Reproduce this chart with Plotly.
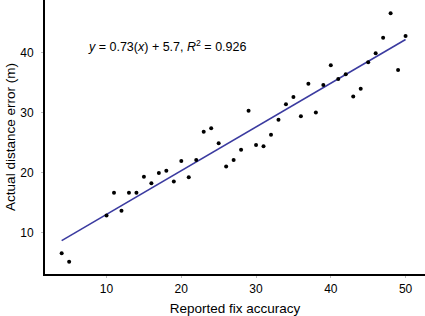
import plotly.graph_objects as go

reported_fix = [4, 5, 10, 11, 12, 13, 14, 15, 16, 17, 18, 19, 20, 21, 22, 23, 24, 25,
                26, 27, 28, 29, 30, 31, 32, 33, 34, 35, 36, 37, 38, 39, 40, 41, 42,
                43, 44, 45, 46, 47, 48, 49, 50]
actual_error = [6.5, 5.1, 12.8, 16.6, 13.6, 16.6, 16.6, 19.3, 18.2, 19.9, 20.3, 18.5,
                21.9, 19.2, 22.1, 26.8, 27.4, 24.9, 21.0, 22.1, 23.8, 30.3, 24.6, 24.4,
                26.3, 28.8, 31.4, 32.6, 29.4, 34.8, 30.0, 34.6, 37.9, 35.6, 36.4, 32.7,
                34.0, 38.4, 39.9, 42.5, 46.6, 37.1, 42.8]
slope = 0.73
intercept = 5.7
r_squared = 0.926
x_ticks = [10, 20, 30, 40, 50]
y_ticks = [10, 20, 30, 40]

fit_y = [slope * x + intercept for x in reported_fix]

fig = go.Figure()
fig.add_trace(go.Scatter(
    x=reported_fix, y=fit_y, mode="lines",
    line=dict(color="#3b3ba0", width=1.6), hoverinfo="skip"))
fig.add_trace(go.Scatter(
    x=reported_fix, y=actual_error, mode="markers",
    marker=dict(color="black", size=4)))

fig.add_annotation(
    x=7.3, y=41.1, xref="x", yref="y", xanchor="left", yanchor="middle",
    text=f"<i>y</i> = {slope}(<i>x</i>) + {intercept}, <i>R</i><sup>2</sup> = {r_squared}",
    showarrow=False, font=dict(size=12.5, color="black"))

fig.update_layout(
    width=425, height=316,
    margin=dict(l=45, r=0, t=0, b=42, pad=0),
    plot_bgcolor="white", paper_bgcolor="white",
    showlegend=False,
    font=dict(family="Liberation Sans, Arial, sans-serif", color="black", size=12),
)
fig.update_xaxes(
    range=[1.77, 52.6], tickvals=x_ticks, showgrid=False, zeroline=False,
    showline=True, linecolor="black", linewidth=2,
    ticks="outside", ticklen=2, tickcolor="#bbbbbb", tickwidth=1,
    tickfont=dict(size=12), automargin=False, ticklabelstandoff=1,
    title=dict(text="Reported fix accuracy", font=dict(size=13.5), standoff=8))
fig.update_yaxes(
    range=[3.05, 48.8], tickvals=y_ticks, showgrid=False, zeroline=False,
    showline=True, linecolor="black", linewidth=2,
    ticks="outside", ticklen=2, tickcolor="#bbbbbb", tickwidth=1,
    tickfont=dict(size=12), automargin=False, ticklabelstandoff=5,
    title=dict(text="Actual distance error (m)", font=dict(size=13.5), standoff=2))

fig.write_html("out.html", config={"displayModeBar": False},
               post_script="document.body.style.margin='0';document.body.style.padding='0';")
